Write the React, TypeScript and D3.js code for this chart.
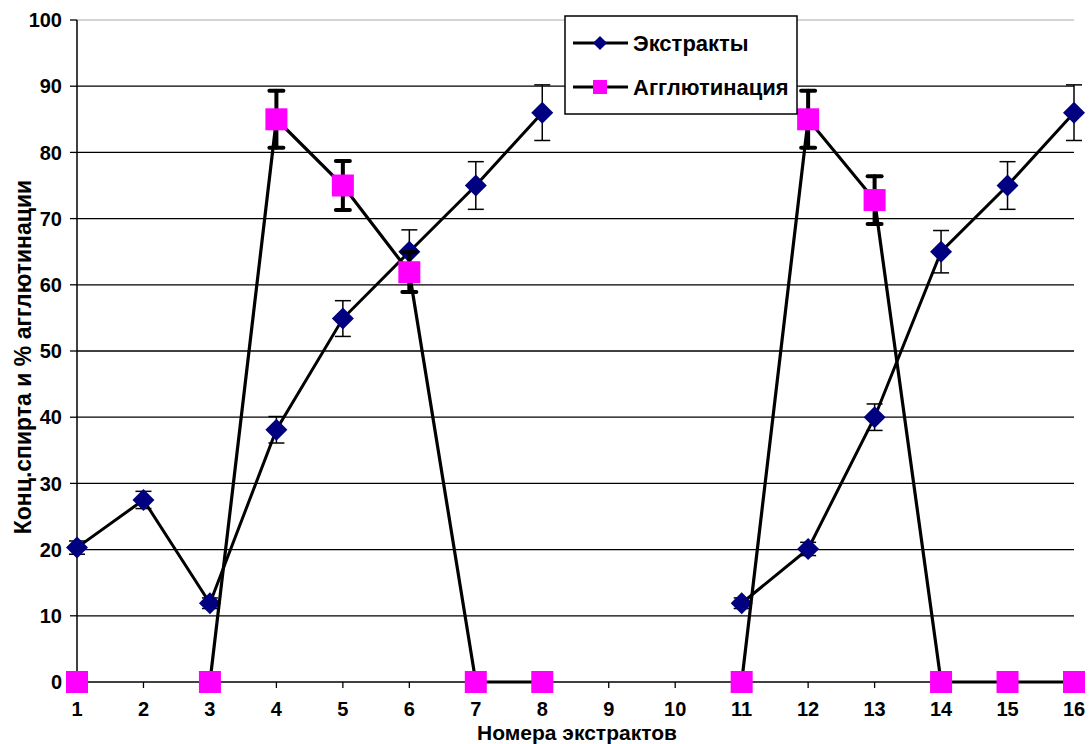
import React from "react";
import * as d3 from "d3";

const categories = [1, 2, 3, 4, 5, 6, 7, 8, 9, 10, 11, 12, 13, 14, 15, 16];
const extracts: (number | null)[] = [20.3, 27.5, 11.9, 38.1, 54.9, 65, 75, 86, null, null, 11.9, 20.1, 40, 65, 75, 86];
const extractsErr: (number | null)[] = [1, 1.3, 0.8, 2, 2.7, 3.3, 3.6, 4.2, null, null, 0.8, 1, 2, 3.2, 3.6, 4.2];
const agglut: (number | null)[] = [0, null, 0, 85, 75, 61.9, 0, 0, null, null, 0, 85, 72.8, 0, 0, 0];
const agglutErr: (number | null)[] = [0, null, 0, 4.3, 3.7, 3, 0, 0, null, null, 0, 4.3, 3.6, 0, 0, 0];
const yTicks = [0, 10, 20, 30, 40, 50, 60, 70, 80, 90, 100];
const seriesNames = ["Экстракты", "Агглютинация"];

const W = 1089;
const H = 744;
const left = 77;
const right = 1074;
const top = 20;
const bottom = 682;
const font = "'Liberation Sans', Arial, sans-serif";

export default function App() {
  const x = d3.scaleLinear().domain([1, 16]).range([left, right]);
  const y = d3.scaleLinear().domain([0, 100]).range([bottom, top]);

  const line = d3
    .line<number | null>()
    .defined((d) => d !== null)
    .x((_, i) => x(categories[i]))
    .y((d) => y(d as number));

  const diamond = (cx: number, cy: number, r: number) =>
    `M${cx},${cy - r}L${cx + r},${cy}L${cx},${cy + r}L${cx - r},${cy}Z`;

  return (
    <svg width={W} height={H} style={{ display: "block", position: "absolute", left: 0, top: 0 }} fontFamily={font}>
      <rect width={W} height={H} fill="#fff" />
      {/* gridlines */}
      {yTicks.filter((t) => t > 0).map((t) => (
        <line key={t} x1={left} x2={right} y1={y(t)} y2={y(t)} stroke={t === 100 ? "#aaa" : "#000"} strokeWidth={t === 100 ? 1 : 1.3} />
      ))}
      {/* axes */}
      <line x1={left} x2={left} y1={top} y2={bottom} stroke="#000" strokeWidth={1.5} />
      <line x1={left} x2={right} y1={bottom} y2={bottom} stroke="#000" strokeWidth={1.5} />
      {yTicks.map((t) => (
        <g key={t}>
          <line x1={left - 7} x2={left} y1={y(t)} y2={y(t)} stroke="#000" strokeWidth={1.3} />
          <text x={62} y={y(t)} dy="0.36em" textAnchor="end" fontSize={20} fontWeight="bold">{t}</text>
        </g>
      ))}
      {categories.map((c) => (
        <g key={c}>
          <line x1={x(c)} x2={x(c)} y1={bottom} y2={bottom + 6} stroke="#000" strokeWidth={1.3} />
          <text x={x(c)} y={716} textAnchor="middle" fontSize={20} fontWeight="bold">{c}</text>
        </g>
      ))}
      <text x={577} y={739.5} textAnchor="middle" fontSize={21} fontWeight="bold">Номера экстрактов</text>
      <text transform={`translate(31,357) rotate(-90)`} textAnchor="middle" fontSize={23} fontWeight="bold">Конц.спирта и % агглютинации</text>

      {/* extracts series */}
      <path d={line(extracts) || ""} fill="none" stroke="#000" strokeWidth={3} />
      {extracts.map((v, i) =>
        v === null || !extractsErr[i] ? null : (
          <g key={"ee" + i} stroke="#000" strokeWidth={1.5}>
            <line x1={x(categories[i])} x2={x(categories[i])} y1={y(v - (extractsErr[i] as number))} y2={y(v + (extractsErr[i] as number))} />
            <line x1={x(categories[i]) - 8} x2={x(categories[i]) + 8} y1={y(v + (extractsErr[i] as number))} y2={y(v + (extractsErr[i] as number))} />
            <line x1={x(categories[i]) - 8} x2={x(categories[i]) + 8} y1={y(v - (extractsErr[i] as number))} y2={y(v - (extractsErr[i] as number))} />
          </g>
        )
      )}
      {extracts.map((v, i) =>
        v === null ? null : <path key={"ed" + i} d={diamond(x(categories[i]), y(v), 11)} fill="#000080" />
      )}

      {/* agglutination series */}
      <path d={line(agglut) || ""} fill="none" stroke="#000" strokeWidth={3.2} />
      {agglut.map((v, i) =>
        v === null || !agglutErr[i] ? null : (
          <g key={"ae" + i} stroke="#000" strokeWidth={4} strokeLinecap="round">
            <line x1={x(categories[i])} x2={x(categories[i])} y1={y(v - (agglutErr[i] as number))} y2={y(v + (agglutErr[i] as number))} />
            <line x1={x(categories[i]) - 7} x2={x(categories[i]) + 7} y1={y(v + (agglutErr[i] as number))} y2={y(v + (agglutErr[i] as number))} />
            <line x1={x(categories[i]) - 7} x2={x(categories[i]) + 7} y1={y(v - (agglutErr[i] as number))} y2={y(v - (agglutErr[i] as number))} />
          </g>
        )
      )}
      {agglut.map((v, i) =>
        v === null ? null : <rect key={"as" + i} x={x(categories[i]) - 11} y={y(v) - 11} width={22} height={22} fill="#ff00ff" />
      )}

      {/* legend */}
      <rect x={565} y={16} width={232} height={98} fill="#fff" stroke="#000" strokeWidth={1.5} />
      <line x1={573} x2={628} y1={43} y2={43} stroke="#000" strokeWidth={3} />
      <path d={diamond(600, 43, 7)} fill="#000080" />
      <text x={633} y={43} dy="0.36em" fontSize={22} fontWeight="bold">{seriesNames[0]}</text>
      <line x1={573} x2={628} y1={87} y2={87} stroke="#000" strokeWidth={3} />
      <rect x={593} y={80} width={14} height={14} fill="#ff00ff" />
      <text x={633} y={87} dy="0.36em" fontSize={22} fontWeight="bold">{seriesNames[1]}</text>
    </svg>
  );
}
